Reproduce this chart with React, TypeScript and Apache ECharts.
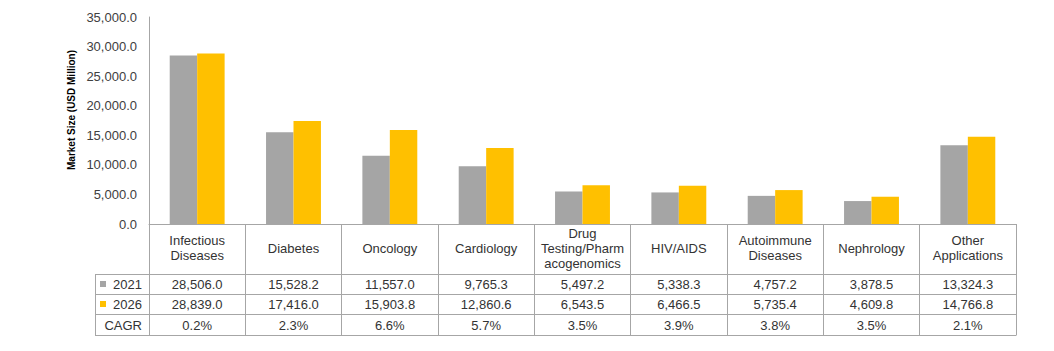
import React, { useEffect, useRef } from "react";
import * as echarts from "echarts";

const categories = [
  "Infectious\nDiseases",
  "Diabetes",
  "Oncology",
  "Cardiology",
  "Drug\nTesting/Pharm\nacogenomics",
  "HIV/AIDS",
  "Autoimmune\nDiseases",
  "Nephrology",
  "Other\nApplications",
];
const values2021 = [28506.0, 15528.2, 11557.0, 9765.3, 5497.2, 5338.3, 4757.2, 3878.5, 13324.3];
const values2026 = [28839.0, 17416.0, 15903.8, 12860.6, 6543.5, 6466.5, 5735.4, 4609.8, 14766.8];
const cagr = [0.2, 2.3, 6.6, 5.7, 3.5, 3.9, 3.8, 3.5, 2.1];
const seriesNames = ["2021", "2026"];
const colors = ["#A5A5A5", "#FFC000"];
const yTicks = { min: 0, max: 35000, interval: 5000 };
const yTitle = "Market Size (USD Million)";

const FONT = "'Liberation Sans', Arial, sans-serif";
const TEXT = "#333333";
const BORDER = "#A6A6A6";

const fmt = (v: number) =>
  v.toLocaleString("en-US", { minimumFractionDigits: 1, maximumFractionDigits: 1 });

export default function App() {
  const ref = useRef<HTMLDivElement>(null);
  useEffect(() => {
    if (!ref.current) return;
    const chart = echarts.init(ref.current, null, { renderer: "svg" });
    const gridLeft = 149;
    const gridRight = 1054 - 1016;
    const gridTop = 17;
    const gridBottomY = 224;
    const rowTops = [274, 294, 314, 335];
    chart.setOption({
      animation: false,
      backgroundColor: "#ffffff",
      grid: { left: gridLeft, right: gridRight, top: gridTop, bottom: 351 - gridBottomY },
      xAxis: {
        type: "category",
        data: categories,
        axisLine: { lineStyle: { color: BORDER, width: 1 } },
        axisTick: { show: true, length: rowTops[3] - gridBottomY, lineStyle: { color: BORDER } },
        axisLabel: {
          interval: 0,
          margin: 24,
          verticalAlign: "middle",
          fontFamily: FONT,
          fontSize: 13,
          lineHeight: 15,
          color: TEXT,
        },
      },
      yAxis: {
        type: "value",
        min: yTicks.min,
        max: yTicks.max,
        interval: yTicks.interval,
        axisLine: { show: true, lineStyle: { color: BORDER } },
        axisTick: { show: false },
        splitLine: { show: false },
        axisLabel: {
          margin: 12,
          fontFamily: FONT,
          fontSize: 13,
          color: "#404040",
          formatter: (v: number) => fmt(v),
        },
      },
      series: [
        {
          name: seriesNames[0],
          type: "bar",
          data: values2021,
          itemStyle: { color: colors[0] },
          barGap: "0%",
          barCategoryGap: "43%",
        },
        {
          name: seriesNames[1],
          type: "bar",
          data: values2026,
          itemStyle: { color: colors[1] },
          barGap: "0%",
          barCategoryGap: "43%",
        },
      ],
    });

    const graphics: any[] = [];
    graphics.push({
      type: "text",
      x: 71,
      y: 110,
      rotation: Math.PI / 2,
      style: {
        text: yTitle,
        fill: "#000000",
        font: `bold 10px ${FONT}`,
        align: "center",
        verticalAlign: "middle",
      },
    });
    const leftX = 95;
    const rightX = 1016;
    rowTops.forEach((y) => {
      graphics.push({
        type: "line",
        shape: { x1: leftX, y1: y + 0.5, x2: rightX + 0.5, y2: y + 0.5 },
        style: { stroke: BORDER, lineWidth: 1 },
        silent: true,
      });
    });
    graphics.push({
      type: "line",
      shape: { x1: leftX + 0.5, y1: rowTops[0], x2: leftX + 0.5, y2: rowTops[3] + 0.5 },
      style: { stroke: BORDER, lineWidth: 1 },
    });
    const rowLabels = [seriesNames[0], seriesNames[1], "CAGR"];
    const rowData = [values2021.map(fmt), values2026.map(fmt), cagr.map((c) => c.toFixed(1) + "%")];
    rowLabels.forEach((lab, r) => {
      const cy = (rowTops[r] + rowTops[r + 1]) / 2 + 0.5;
      graphics.push({
        type: "text",
        x: 142,
        y: cy,
        style: {
          text: lab,
          fill: TEXT,
          font: `13px ${FONT}`,
          align: "right",
          verticalAlign: "middle",
        },
      });
      if (r < 2) {
        graphics.push({
          type: "rect",
          shape: { x: 100, y: cy - 3.5, width: 6, height: 6 },
          style: { fill: colors[r] },
        });
      }
      rowData[r].forEach((txt, i) => {
        const px = chart.convertToPixel({ xAxisIndex: 0 }, i) as number;
        graphics.push({
          type: "text",
          x: px,
          y: cy,
          style: {
            text: txt,
            fill: TEXT,
            font: `13px ${FONT}`,
            align: "center",
            verticalAlign: "middle",
          },
        });
      });
    });
    chart.setOption({ graphic: graphics });
    return () => chart.dispose();
  }, []);
  return (
    <div
      ref={ref}
      style={{ position: "fixed", left: 0, top: 0, width: 1054, height: 351 }}
    />
  );
}
